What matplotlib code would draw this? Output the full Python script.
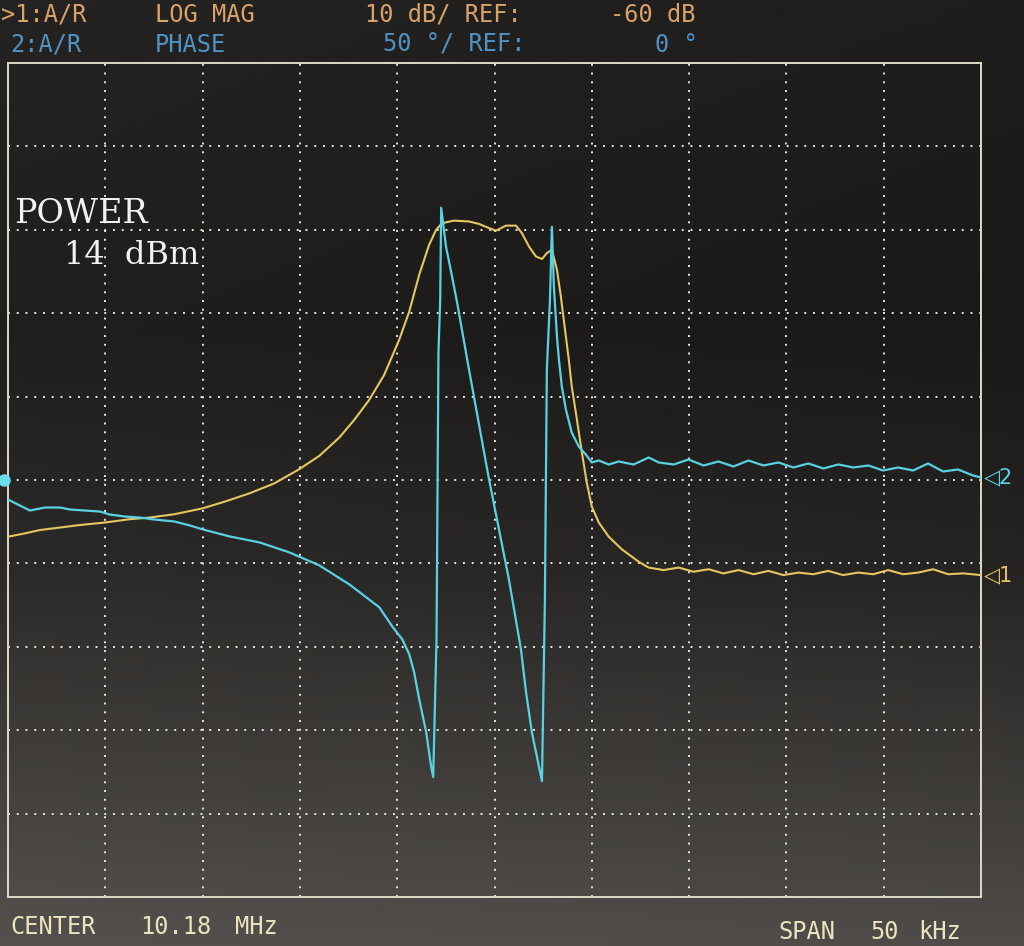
import numpy as np
import matplotlib.pyplot as plt
from matplotlib.transforms import blended_transform_factory

# analyzer settings
center_mhz = 10.18
span_khz = 50
mag_ref_db = -60
mag_per_div = 10
phase_ref_deg = 0
phase_per_div = 50
power_dbm = 14

# trace 1: A/R LOG MAG  (frequency offset from center, kHz / dB)
mag_freq = [-25.0, -24.13, -23.36, -22.33, -21.31, -20.03, -18.74, -17.72, -16.44, -15.0,
            -13.87, -12.59, -11.31, -10.03, -9.0, -7.97, -7.21, -6.44, -5.67, -4.9,
            -4.38, -3.87, -3.36, -3.0, -2.69, -2.08, -1.31, -0.79, -0.28, 0.08,
            0.59, 1.1, 1.41, 1.77, 2.13, 2.44, 2.69, 2.95, 3.21, 3.41,
            3.56, 3.82, 3.97, 4.18, 4.49, 4.74, 5.0, 5.36, 5.87, 6.54,
            7.41, 7.92, 8.69, 9.46, 10.23, 11.0, 11.77, 12.54, 13.31, 14.08,
            14.85, 15.62, 16.38, 17.15, 17.92, 18.69, 19.46, 20.23, 21.0, 21.77,
            22.54, 23.31, 24.08, 25.0]
mag_db = [-66.8, -66.4, -66.0, -65.7, -65.4, -65.1, -64.7, -64.5, -64.1, -63.4,
          -62.6, -61.6, -60.4, -58.7, -57.1, -54.9, -52.8, -50.4, -47.4, -43.2,
          -39.8, -35.4, -31.8, -30.0, -29.2, -28.9, -29.0, -29.3, -29.8, -30.1,
          -29.5, -29.5, -30.4, -32.0, -33.2, -33.5, -32.8, -32.4, -34.8, -38.0,
          -40.8, -45.6, -48.8, -51.9, -56.7, -60.3, -63.2, -65.1, -66.8, -68.3,
          -69.8, -70.5, -70.8, -70.5, -71.0, -70.7, -71.2, -70.8, -71.3, -70.9,
          -71.4, -71.1, -71.3, -70.9, -71.4, -71.1, -71.3, -70.8, -71.3, -71.1,
          -70.7, -71.3, -71.2, -71.4]

# trace 2: A/R PHASE  (kHz / degrees)
ph_freq = [-25.0, -24.49, -23.87, -23.10, -22.33, -21.82, -21.05, -20.28, -19.77, -19.0,
           -18.23, -17.46, -16.44, -15.67, -15.0, -13.62, -12.08, -10.54, -9.0, -7.46,
           -5.92, -5.26, -4.74, -4.38, -4.13, -3.87, -3.51, -3.26, -3.15, -2.98,
           -2.88, -2.79, -2.74, -2.49, -2.18, -1.92, -1.31, -0.28, 0.74, 1.36,
           1.62, 1.92, 2.28, 2.44, 2.59, 2.69, 2.85, 2.95, 3.05, 3.21,
           3.31, 3.46, 3.67, 3.97, 4.33, 4.69, 5.0, 5.36, 5.87, 6.38,
           7.15, 7.92, 8.44, 9.21, 9.97, 10.74, 11.51, 12.28, 13.05, 13.82,
           14.59, 15.36, 16.13, 16.9, 17.67, 18.44, 19.21, 19.97, 20.74, 21.51,
           22.28, 23.05, 23.82, 24.59, 25.0]
ph_deg = [-11.7, -14.7, -18.3, -16.5, -16.5, -17.7, -18.3, -18.9, -20.7, -21.9,
          -22.5, -23.7, -24.9, -27.2, -29.6, -33.8, -37.4, -43.4, -51.2, -62.6,
          -76.3, -87.7, -95.5, -104.5, -115.3, -131.4, -151.2, -171.6, -178.1, -95.5,
          76.3, 108.0, 163.2, 139.8, 121.9, 106.3, 66.2, 0.3, -59.6, -101.5,
          -127.2, -151.2, -171.6, -180.5, -71.6, 66.2, 108.0, 151.8, 115.9, 85.9,
          72.2, 56.0, 42.2, 28.4, 20.1, 15.3, 10.5, 11.7, 9.3, 11.1,
          9.3, 13.5, 10.5, 9.3, 12.3, 8.7, 11.1, 8.1, 11.7, 8.7,
          10.5, 7.5, 9.9, 6.9, 9.3, 7.5, 8.7, 5.7, 7.5, 5.7,
          9.9, 5.1, 6.3, 2.7, 1.5]

W, H = 1024, 946
fig = plt.figure(figsize=(W / 100, H / 100), dpi=100)

# screen background (photo of CRT: dark on top, greyer towards the bottom)
bg = fig.add_axes([0, 0, 1, 1])
yy = np.linspace(0, 1, 200)[:, None]
xx = np.linspace(0, 1, 200)[None, :]
lev = np.interp(yy, [0, 0.35, 0.6, 1.0], [31, 26, 38, 78]) + 6 * (1 - xx)
img = np.stack([lev, lev * 0.96, lev * 0.92], axis=-1) / 255.0
bg.imshow(img, aspect='auto', extent=[0, 1, 0, 1], origin='upper')
bg.axis('off')

left, right, top, bottom = 8, 981, 63, 897
ax = fig.add_axes([left / W, 1 - bottom / H, (right - left) / W, (bottom - top) / H])
ax.set_facecolor('none')
ax.set_xlim(-span_khz / 2, span_khz / 2)
ax.set_ylim(mag_ref_db - 5 * mag_per_div, mag_ref_db + 5 * mag_per_div)
ax.set_xticks(np.linspace(-span_khz / 2, span_khz / 2, 11))
ax.set_yticks(np.linspace(mag_ref_db - 5 * mag_per_div, mag_ref_db + 5 * mag_per_div, 11))
ax.grid(True, color='#e8e6de', linestyle=(0, (1, 3.5)), linewidth=1.4)
ax.tick_params(length=0, labelbottom=False, labelleft=False)
for s in ax.spines.values():
    s.set_color('#ddd9c6')
    s.set_linewidth(1.4)

ax2 = ax.twinx()
ax2.set_ylim(phase_ref_deg - 5 * phase_per_div, phase_ref_deg + 5 * phase_per_div)
ax2.axis('off')

yellow = '#e4c662'
cyan = '#58d2e2'
ax.plot(mag_freq, mag_db, color=yellow, lw=1.5, zorder=3)
ax2.plot(ph_freq, ph_deg, color=cyan, lw=1.6, zorder=4)

# trace end markers on the right, reference marker on the left
tr1 = blended_transform_factory(ax.transAxes, ax.transData)
tr2 = blended_transform_factory(ax2.transAxes, ax2.transData)
ax.text(1.003, mag_db[-1], '◁1', transform=tr1, color=yellow, fontsize=15,
        va='center', ha='left', family=['DejaVu Sans'], clip_on=False)
ax2.text(1.003, ph_deg[-1], '◁2', transform=tr2, color=cyan, fontsize=15,
         va='center', ha='left', family=['DejaVu Sans'], clip_on=False)
ax2.plot([-0.004], [phase_ref_deg], 'o', color='#6fdcec', ms=8, transform=tr2, clip_on=False)


def screen_text(x, y, s, color, size=17, family='DejaVu Sans Mono'):
    fig.text(x / W, 1 - y / H, s, color=color, fontsize=size, family=family,
             ha='left', va='center')


orange = '#d9a26a'
blue = '#4f93c4'
screen_text(1, 15, '>1:A/R', orange)
screen_text(155, 15, 'LOG MAG', orange)
screen_text(365, 15, f'10 dB/ REF:', orange)
screen_text(610, 15, f'{mag_ref_db} dB', orange)
screen_text(10, 45, '2:A/R', blue)
screen_text(155, 45, 'PHASE', blue)
screen_text(383, 45, f'{phase_per_div} °/ REF:', blue)
screen_text(655, 45, f'{phase_ref_deg} °', blue)

screen_text(14, 214, 'POWER', '#f2f2ee', size=24, family='DejaVu Serif')
screen_text(64, 256, f'{power_dbm}  dBm', '#f2f2ee', size=23, family='DejaVu Serif')

cream = '#ebe4bf'
screen_text(10, 927, 'CENTER', cream)
screen_text(140, 927, f'{center_mhz:.2f}', cream)
screen_text(235, 927, 'MHz', cream)
screen_text(778, 932, 'SPAN', cream)
screen_text(870, 932, f'{span_khz}', cream)
screen_text(918, 932, 'kHz', cream)

fig.savefig('out.png', dpi=100)
